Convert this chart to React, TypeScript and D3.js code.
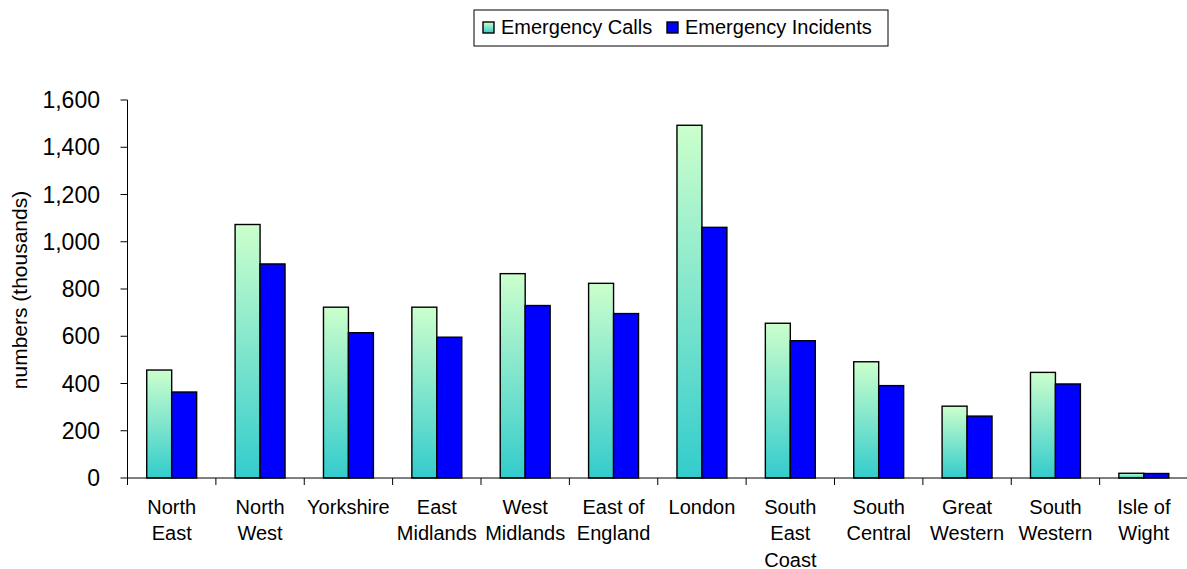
import { useEffect, useRef } from "react";
import * as d3 from "d3";

const regions = [
  "North East", "North West", "Yorkshire", "East Midlands", "West Midlands", "East of England",
  "London", "South East Coast", "South Central", "Great Western", "South Western", "Isle of Wight",
];
// label lines as printed under each category
const regionLines = [
  ["North", "East"], ["North", "West"], ["Yorkshire"], ["East", "Midlands"], ["West", "Midlands"],
  ["East of", "England"], ["London"], ["South", "East", "Coast"], ["South", "Central"],
  ["Great", "Western"], ["South", "Western"], ["Isle of", "Wight"],
];
const emergencyCalls = [457, 1073, 723, 723, 865, 824, 1493, 655, 492, 304, 447, 20];
const emergencyIncidents = [364, 906, 615, 596, 730, 696, 1061, 581, 391, 262, 398, 19];
const seriesNames = ["Emergency Calls", "Emergency Incidents"];
const yTicks = [0, 200, 400, 600, 800, 1000, 1200, 1400, 1600];

const W = 1187;
const H = 569;
const FONT = "'Liberation Sans', Arial, Helvetica, sans-serif";

export default function App() {
  const ref = useRef<SVGSVGElement>(null);

  useEffect(() => {
    if (!ref.current) return;
    const svg = d3.select(ref.current);
    svg.selectAll("*").remove();

    const left = 127.5, right = 1188, top = 100, bottom = 478;

    const defs = svg.append("defs");
    const grad = defs.append("linearGradient")
      .attr("id", "callsGrad")
      .attr("x1", "0").attr("y1", "0").attr("x2", "0").attr("y2", "1");
    grad.append("stop").attr("offset", "0%").attr("stop-color", "#ccffcc");
    grad.append("stop").attr("offset", "100%").attr("stop-color", "#33cccc");

    const x0 = d3.scaleBand().domain(regions).range([left, right]).padding(0);
    const x1 = d3.scaleBand().domain(seriesNames).range([0, x0.bandwidth()])
      .paddingInner(0).paddingOuter(0.77);
    const y = d3.scaleLinear().domain([0, 1600]).range([bottom, top]);

    const fills = ["url(#callsGrad)", "#0000ff"];
    const rows = regions.map((r, i) => ({ region: r, vals: [emergencyCalls[i], emergencyIncidents[i]] }));

    // bars
    const g = svg.append("g");
    rows.forEach((row) => {
      row.vals.forEach((v, j) => {
        g.append("rect")
          .attr("x", (x0(row.region) ?? 0) + (x1(seriesNames[j]) ?? 0))
          .attr("y", y(v))
          .attr("width", x1.bandwidth())
          .attr("height", y(0) - y(v))
          .attr("fill", fills[j])
          .attr("stroke", "#000")
          .attr("stroke-width", 1.4);
      });
    });

    // y axis
    svg.append("line")
      .attr("x1", left).attr("x2", left).attr("y1", top).attr("y2", bottom)
      .attr("stroke", "#000");
    yTicks.forEach((t) => {
      svg.append("line")
        .attr("x1", left - 7).attr("x2", left).attr("y1", y(t)).attr("y2", y(t))
        .attr("stroke", "#000");
      svg.append("text")
        .attr("x", 100).attr("y", y(t))
        .attr("text-anchor", "end").attr("dominant-baseline", "central")
        .attr("font-family", FONT).attr("font-size", 23)
        .text(d3.format(",")(t));
    });

    // x axis
    svg.append("line")
      .attr("x1", left).attr("x2", right).attr("y1", bottom).attr("y2", bottom)
      .attr("stroke", "#000");
    regions.forEach((r, i) => {
      const bx = x0(r) ?? 0;
      svg.append("line")
        .attr("x1", bx).attr("x2", bx).attr("y1", bottom).attr("y2", bottom + 7)
        .attr("stroke", "#000");
      const t = svg.append("text")
        .attr("text-anchor", "middle")
        .attr("font-family", FONT).attr("font-size", 20);
      regionLines[i].forEach((ln, k) => {
        t.append("tspan")
          .attr("x", bx + x0.bandwidth() / 2)
          .attr("y", 513.5 + k * 26.5)
          .text(ln);
      });
    });

    // y label
    svg.append("text")
      .attr("transform", `translate(19,290) rotate(-90)`)
      .attr("text-anchor", "middle").attr("dominant-baseline", "central")
      .attr("font-family", FONT).attr("font-size", 21)
      .text("numbers (thousands)");

    // legend
    const lg = svg.append("g");
    lg.append("rect")
      .attr("x", 474).attr("y", 10).attr("width", 414).attr("height", 36)
      .attr("fill", "#fff").attr("stroke", "#000");
    const legendPos = [483, 667];
    seriesNames.forEach((s, j) => {
      lg.append("rect")
        .attr("x", legendPos[j]).attr("y", 22).attr("width", 11).attr("height", 11)
        .attr("fill", fills[j]).attr("stroke", "#000").attr("stroke-width", 1.4);
      lg.append("text")
        .attr("x", legendPos[j] + 18).attr("y", 33.5)
        .attr("font-family", FONT).attr("font-size", 20)
        .text(s);
    });
  }, []);

  return (
    <svg
      ref={ref}
      width={W}
      height={H}
      style={{ position: "absolute", left: 0, top: 0, background: "#fff" }}
    />
  );
}
